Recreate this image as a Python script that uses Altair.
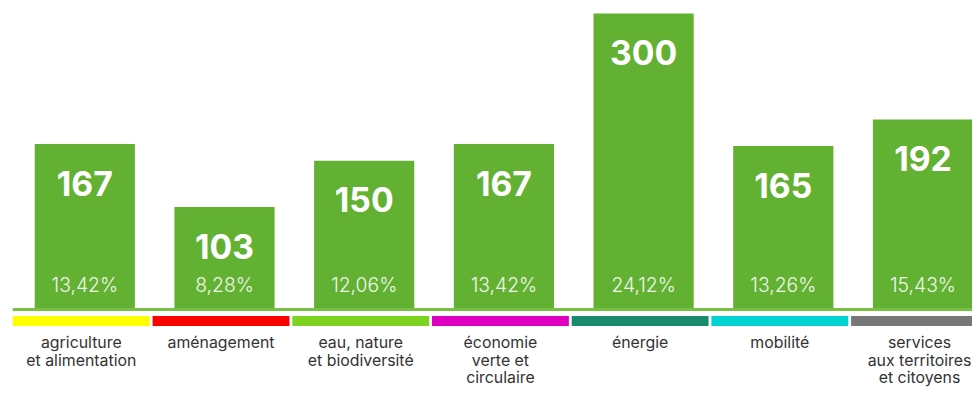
import altair as alt
import pandas as pd

categories = ["agriculture\net alimentation", "aménagement", "eau, nature\net biodiversité",
              "économie\nverte et\ncirculaire", "énergie", "mobilité",
              "services\naux territoires\net citoyens"]
values = [167, 103, 150, 167, 300, 165, 192]
percents = ["13,42%", "8,28%", "12,06%", "13,42%", "24,12%", "13,26%", "15,43%"]
strip_colors = ["#ffff00", "#ff0000", "#7ed321", "#df00c1", "#198a6b", "#00d3d3", "#777777"]

df = pd.DataFrame({"cat": categories, "value": values, "pct": percents, "col": strip_colors})

FONT = "Inter"
W = 967            # visible plot width
STEP = 140.86      # slot width; the 7th slot runs past the right edge, as in the original
H = 297

x = alt.X("pos:Q", axis=None,
          scale=alt.Scale(domain=[0, W / STEP], nice=False, zero=False, padding=0))
y_scale = alt.Scale(domain=[0, 300], nice=False, zero=True)

base = alt.Chart(df).transform_window(
    rank="row_number()"
).transform_calculate(pos="datum.rank - 0.5")

bars = base.mark_bar(size=101, xOffset=2, color="#63b132").encode(
    x=x, y=alt.Y("value:Q", scale=y_scale, axis=None))

baseline = base.mark_rule(color="#78c043", strokeWidth=3, yOffset=1.5).encode(
    x=alt.value(0), x2=alt.value(W), y=alt.Y(datum=0, scale=y_scale))

strips = base.mark_bar(size=138, xOffset=-1.5).encode(
    x=x, y=alt.value(305), y2=alt.value(315),
    color=alt.Color("col:N", scale=None))

nums = base.mark_text(font=FONT, fontSize=34, fontWeight="bold", color="white",
                      baseline="middle", dy=42, xOffset=2).encode(
    x=x, y=alt.Y("value:Q", scale=y_scale), text="value:Q")

pcts = base.mark_text(font=FONT, fontSize=19.5, fontWeight=300, color="white", opacity=0.9,
                      baseline="middle", dy=-22, xOffset=2).encode(
    x=x, y=alt.Y(datum=0, scale=y_scale), text="pct:N")

labels = base.mark_text(font=FONT, fontSize=16, color="#333333", baseline="top",
                        lineBreak="\n", lineHeight=18, dy=27, xOffset=-1.5).encode(
    x=x, y=alt.Y(datum=0, scale=y_scale), text="cat:N")

chart = alt.layer(bars, baseline, strips, nums, pcts, labels).properties(
    width=W, height=H,
    padding={"left": 5, "top": 4, "right": 0, "bottom": 80},
    autosize=alt.AutoSizeParams(type="none"),
).configure_view(stroke=None)

chart.save("out.html", embed_options={"renderer": "svg", "actions": False})
